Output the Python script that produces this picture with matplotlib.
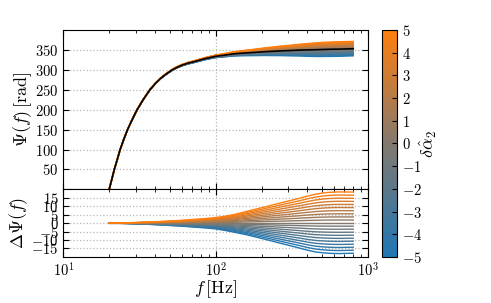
import numpy as np
import matplotlib
matplotlib.use("Agg")
import matplotlib.pyplot as plt
from matplotlib.colors import LinearSegmentedColormap, Normalize
from matplotlib.cm import ScalarMappable

plt.rcParams["font.family"] = "serif"
plt.rcParams["font.serif"] = ["cmr10", "DejaVu Serif"]
plt.rcParams["mathtext.fontset"] = "cm"
plt.rcParams["axes.formatter.use_mathtext"] = True
plt.rcParams["axes.unicode_minus"] = True

freq = [20.0, 20.8, 21.6, 22.6, 23.6, 24.9, 26.4, 28.3, 30.5, 33.4, 37, 40, 43.6, 47.5,
        51.4, 55.5, 60.3, 65.5, 71.3, 85, 100, 115, 130, 145, 160, 185, 210, 237, 264,
        310, 357, 400, 450, 500, 550, 600, 650, 720, 800]
# GR phase (black curve) [rad]
psi_gr = [0, 25, 50, 75, 100, 125, 150, 175, 200, 225, 250, 265, 279, 290,
          299, 306, 312, 316.5, 320, 328, 334, 337, 340, 341.5, 342.5, 344, 345.5, 346.5, 347.5,
          348.5, 349.5, 350, 350.5, 351, 351.5, 351.8, 352, 352.5, 353]
# phase shift for delta alpha_2 = +5 and -5
dpsi_plus5 = [0, 0.02, 0.05, 0.07, 0.1, 0.15, 0.2, 0.3, 0.4, 0.55, 0.7, 0.85, 1.0, 1.15,
              1.35, 1.5, 1.7, 1.95, 2.2, 2.7, 3.3, 4.1, 5.0, 6.0, 7.0, 8.4, 9.6, 10.8, 11.9,
              13.4, 14.8, 16.0, 17.1, 17.8, 18.2, 18.4, 18.5, 18.45, 18.4]
dpsi_minus5 = [0, -0.02, -0.05, -0.07, -0.1, -0.15, -0.2, -0.3, -0.4, -0.55, -0.75, -0.9, -1.05, -1.25,
               -1.45, -1.6, -1.8, -2.05, -2.3, -2.8, -3.4, -4.3, -5.2, -6.1, -6.9, -8.3, -9.5, -10.7, -11.8,
               -13.4, -14.8, -16.0, -17.0, -17.5, -17.8, -17.95, -18.0, -17.9, -17.8]
# deviation values delta alpha_2
dalpha = [-5, -4.5, -4, -3.5, -3, -2.5, -2, -1.5, -1, -0.5, 0,
          0.5, 1, 1.5, 2, 2.5, 3, 3.5, 4, 4.5, 5]

f = np.array(freq)
psi = np.array(psi_gr)
up = np.array(dpsi_plus5)
dn = np.array(dpsi_minus5)

cmap = LinearSegmentedColormap.from_list("bo", ["#1f77b4", "#83796f", "#ff7f0e"])
norm = Normalize(-5, 5)

fig = plt.figure(figsize=(4.91, 3.03), dpi=100)
ax1 = fig.add_axes([0.129, 0.375, 0.6205, 0.526])
ax2 = fig.add_axes([0.129, 0.152, 0.6205, 0.223], sharex=ax1)
cax = fig.add_axes([0.779, 0.152, 0.0297, 0.749])

for d in dalpha:
    prof = up if d >= 0 else dn
    dpsi = abs(d) / 5.0 * prof
    c = cmap(norm(d))
    ax1.plot(f, psi + dpsi, color=c, lw=1.0)
    ax2.plot(f, dpsi, color=c, lw=1.0)
ax1.plot(f, psi, color="k", lw=1.2)

for ax in (ax1, ax2):
    ax.set_xscale("log")
    ax.grid(True, which="major", linestyle=":", color="#b8b8b8", lw=0.9)
    ax.tick_params(which="both", direction="in", top=True, right=True, labelsize=10.5)
    ax.tick_params(which="major", length=4)
    ax.tick_params(which="minor", length=2)

ax1.set_xlim(10, 1000)
ax1.set_ylim(0, 400)
ax1.set_yticks([50, 100, 150, 200, 250, 300, 350])
plt.setp(ax1.get_xticklabels(), visible=False)
ax1.set_ylabel(r"$\Psi(f)\,[\mathrm{rad}]$", fontsize=13, labelpad=1)

ax2.set_ylim(-20, 20)
ax2.set_yticks([-15, -10, -5, 0, 5, 10, 15])
ax2.set_ylabel(r"$\Delta\Psi(f)$", fontsize=13, labelpad=1)
ax2.set_xlabel(r"$f\,[\mathrm{Hz}]$", fontsize=13, labelpad=-1)

sm = ScalarMappable(norm=norm, cmap=cmap)
cb = fig.colorbar(sm, cax=cax)
cb.set_ticks(range(-5, 6))
cb.ax.tick_params(labelsize=10.5, direction="in")
cb.set_label(r"$\delta\hat{\alpha}_2$", fontsize=13, labelpad=-3)

fig.savefig("out.png", dpi=100)
